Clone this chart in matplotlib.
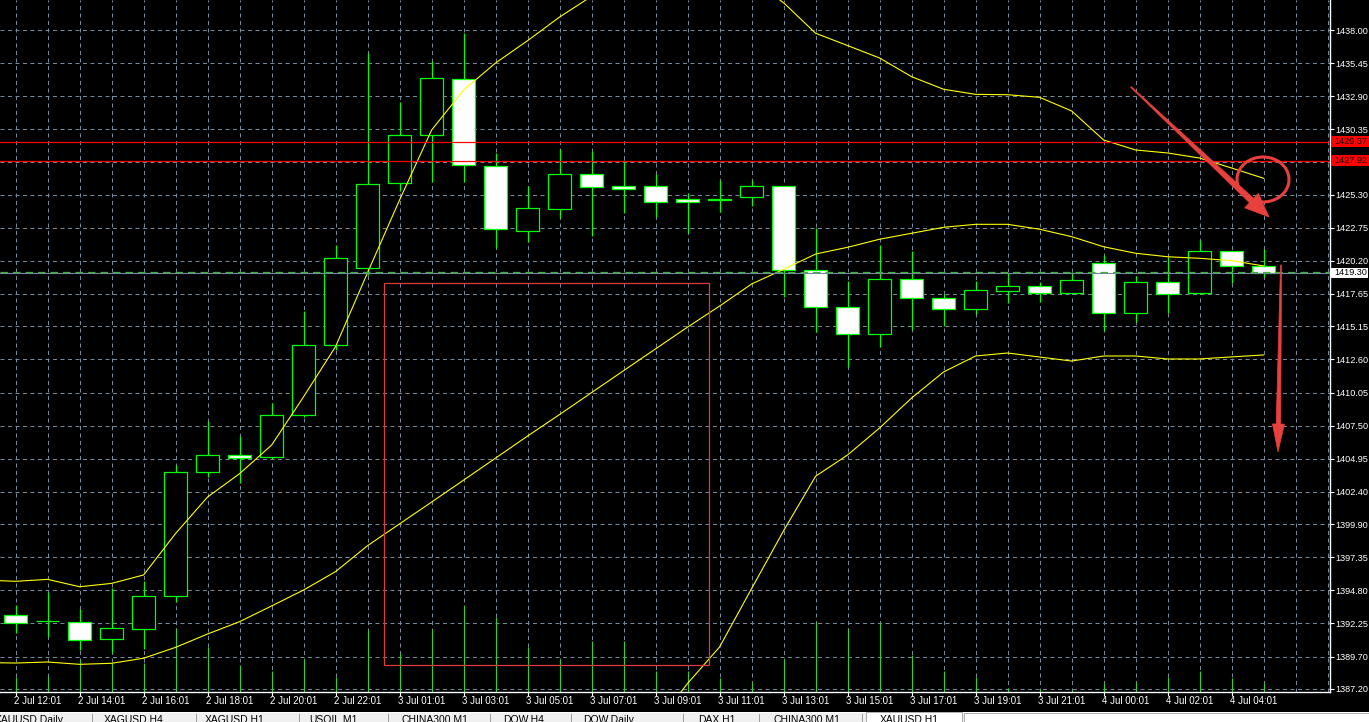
import numpy as np
import matplotlib
matplotlib.use('Agg')
import matplotlib.pyplot as plt
from matplotlib.patches import Rectangle, Polygon, Arc
from matplotlib.transforms import Affine2D, blended_transform_factory

plt.rcParams['font.family'] = ['Liberation Sans', 'DejaVu Sans']

# ---------------- data (XAUUSD H1) ----------------
opens = [1392.88, 1392.42, 1392.39, 1391.03, 1391.85, 1394.37, 1403.90, 1405.21, 1405.06, 1408.30,
         1413.70, 1419.65, 1426.18, 1429.88, 1434.20, 1427.49, 1422.53, 1424.22, 1426.88, 1425.95,
         1425.95, 1424.95, 1424.93, 1425.10, 1425.95, 1419.48, 1416.62, 1414.54, 1418.78, 1417.32,
         1416.47, 1417.90, 1418.24, 1417.70, 1420.01, 1416.16, 1418.55, 1417.70, 1420.94, 1419.78]
highs = [1393.65, 1394.67, 1393.34, 1395.02, 1395.50, 1404.47, 1407.88, 1406.70, 1409.22, 1416.31,
         1421.40, 1436.20, 1432.47, 1435.63, 1437.79, 1428.49, 1425.97, 1428.80, 1428.70, 1427.98,
         1426.90, 1425.46, 1426.44, 1426.44, 1425.95, 1422.71, 1418.65, 1421.43, 1420.96, 1417.65,
         1418.65, 1419.29, 1418.60, 1419.37, 1420.65, 1419.04, 1420.47, 1421.81, 1420.94, 1421.10]
lows = [1391.54, 1391.19, 1390.20, 1389.95, 1390.26, 1393.93, 1403.57, 1403.06, 1404.90, 1408.14,
        1413.30, 1419.10, 1425.60, 1426.31, 1426.31, 1421.22, 1421.68, 1423.53, 1422.12, 1423.92,
        1423.61, 1422.33, 1424.00, 1424.43, 1417.44, 1414.74, 1412.00, 1413.60, 1414.87, 1415.18,
        1416.11, 1416.98, 1417.05, 1417.70, 1414.82, 1415.51, 1416.16, 1417.65, 1418.52, 1418.94]
closes = [1392.31, 1392.42, 1390.95, 1391.88, 1394.37, 1403.90, 1405.21, 1405.03, 1408.30, 1413.70,
          1420.42, 1426.13, 1429.88, 1434.28, 1427.57, 1422.68, 1424.26, 1426.88, 1425.92, 1425.77,
          1424.76, 1424.76, 1424.98, 1425.95, 1419.48, 1416.62, 1414.54, 1418.78, 1417.32, 1416.47,
          1417.93, 1418.24, 1417.70, 1418.70, 1416.16, 1418.55, 1417.63, 1420.94, 1419.78, 1419.30]
volumes = [383, 400, 818, 725, 733, 1593, 1118, 675, 525, 825,
           368, 1550, 968, 1568, 2168, 1868, 1118, 825, 1275, 1275,
           525, 525, 358, 250, 825, 1743, 1593, 1718, 925, 525,
           375, 93, 68, 50, 218, 250, 368, 525, 358, 218]
# Bollinger bands start one bar earlier (bar just off the left edge)
bb_upper = [1395.60,
            1395.50, 1395.65, 1395.08, 1395.34, 1395.99, 1399.19, 1402.00, 1403.80, 1406.00, 1409.73,
            1413.60, 1419.30, 1424.90, 1430.29, 1433.37, 1435.46, 1437.18, 1439.00, 1440.60, 1441.60,
            1442.40, 1442.57, 1443.00, 1441.90, 1440.10, 1437.75, 1436.80, 1435.84, 1434.40, 1433.43,
            1433.04, 1433.01, 1432.81, 1431.76, 1429.52, 1428.75, 1428.52, 1428.13, 1427.36, 1426.57]
bb_middle = [1389.24,
             1389.20, 1389.28, 1389.10, 1389.18, 1389.57, 1390.41, 1391.44, 1392.39, 1393.60, 1394.83,
             1396.25, 1398.25, 1399.93, 1401.61, 1403.30, 1405.00, 1406.70, 1408.36, 1410.05, 1411.74,
             1413.42, 1415.10, 1416.72, 1418.42, 1419.55, 1420.73, 1421.25, 1421.87, 1422.33, 1422.79,
             1423.02, 1423.02, 1422.64, 1422.07, 1421.29, 1420.79, 1420.52, 1420.40, 1420.22, 1419.81]
bb_lower = [1382.88,
            1382.90, 1382.89, 1383.05, 1383.06, 1383.14, 1381.62, 1380.88, 1380.98, 1381.20, 1379.93,
            1378.90, 1377.20, 1374.96, 1372.93, 1373.23, 1374.54, 1376.22, 1377.72, 1379.50, 1381.88,
            1384.44, 1387.63, 1390.44, 1394.94, 1399.40, 1403.60, 1405.24, 1407.32, 1409.63, 1411.64,
            1412.87, 1413.10, 1412.79, 1412.48, 1412.87, 1412.87, 1412.64, 1412.64, 1412.80, 1412.95]
xtick_idx = list(range(0, 40, 2))
xtick_labels = ['2 Jul 12:01', '2 Jul 14:01', '2 Jul 16:01', '2 Jul 18:01', '2 Jul 20:01',
                '2 Jul 22:01', '3 Jul 01:01', '3 Jul 03:01', '3 Jul 05:01', '3 Jul 07:01',
                '3 Jul 09:01', '3 Jul 11:01', '3 Jul 13:01', '3 Jul 15:01', '3 Jul 17:01',
                '3 Jul 19:01', '3 Jul 21:01', '4 Jul 00:01', '4 Jul 02:01', '4 Jul 04:01']
ytick_vals = [1438.00, 1435.45, 1432.90, 1430.35, 1427.80, 1425.30, 1422.75, 1420.20, 1417.65,
              1415.15, 1412.60, 1410.05, 1407.50, 1404.95, 1402.40, 1399.90, 1397.35, 1394.80,
              1392.25, 1389.70, 1387.20]
ytick_labels = ['1438.00', '1435.45', '1432.90', '1430.35', '', '1425.30', '1422.75', '1420.20',
                '1417.65', '1415.15', '1412.60', '1410.05', '1407.50', '1404.95', '1402.40',
                '1399.90', '1397.35', '1394.80', '1392.25', '1389.70', '1387.20']
red_levels = [1429.37, 1427.92]
red_labels = ['1429.37', '1427.92']
bid_price = 1419.30
bid_label = '1419.30'
tab_labels = ['XAUUSD,Daily', 'XAGUSD,H4', 'XAGUSD,H1', 'USOIL,M1', 'CHINA300,M1',
              'DOW,H4', 'DOW,Daily', 'DAX,H1', 'CHINA300,M1', 'XAUUSD,H1']

# ---------------- layout ----------------
W, H = 1369, 722
PLOT_RIGHT, PLOT_BOTTOM = 1330, 692
X0, DX = 15.6, 32.0            # pixel of first candle, pixel per candle
Y0, P0, PPU = 30.0, 1438.0, 12.972   # pixel of P0, pixel per price unit
FS = 7.0
FSY = 6.6

fig = plt.figure(figsize=(W / 100, H / 100), dpi=100, facecolor='black')
ax = fig.add_axes([0, 1 - PLOT_BOTTOM / H, PLOT_RIGHT / W, PLOT_BOTTOM / H])
ax.set_facecolor('black')
ax.set_xlim((0 - X0) / DX, (PLOT_RIGHT - X0) / DX)
ax.set_ylim(P0 - (PLOT_BOTTOM - Y0) / PPU, P0 + Y0 / PPU)

# pixel transform (top-left origin) for annotations
PX = Affine2D().scale(1 / 100, -1 / 100).translate(0, H / 100) + fig.dpi_scale_trans

GRID = '#778899'
grid_kw = dict(color=GRID, lw=0.72, linestyle=(0, (4, 3.5)), zorder=1)
for v in ytick_vals:
    ax.axhline(v, **grid_kw)
for i in range(0, 42):
    ax.axvline(i, **grid_kw)

x = np.arange(len(closes))
xb = np.arange(-1, len(closes))

# volumes
vtrans = blended_transform_factory(ax.transData, ax.transAxes)
VOL_TOP = 17300
ax.vlines(x, 0, np.array(volumes) / VOL_TOP, transform=vtrans, color='#32cd32', lw=0.8, zorder=2)

# candles
GREEN = '#00ff00'
for i, (o, h, l, c) in enumerate(zip(opens, highs, lows, closes)):
    ax.vlines(i, l, h, color=GREEN, lw=0.85, zorder=3)
    face = 'white' if c < o else 'black'
    ax.add_patch(Rectangle((i - 0.36, min(o, c)), 0.72, abs(c - o), fc=face, ec=GREEN,
                           lw=0.9, zorder=4))

# bollinger bands
for band in (bb_upper, bb_middle, bb_lower):
    ax.plot(xb, band, color='#ffff00', lw=0.8, zorder=5)

# horizontal levels
for lv in red_levels:
    ax.axhline(lv, color='#ff0000', lw=0.9, zorder=6)
ax.axhline(bid_price, color=GRID, lw=0.8, zorder=6)
ax.axhline(bid_price + 0.9 / PPU, color='#3cb043', lw=0.9, linestyle=(0, (6, 4)), zorder=6)

# axes styling
for s in ('top', 'left'):
    ax.spines[s].set_visible(False)
for s in ('right', 'bottom'):
    ax.spines[s].set_color('white')
    ax.spines[s].set_linewidth(1.0)
ax.yaxis.tick_right()
ax.set_yticks(ytick_vals)
ax.set_yticklabels(ytick_labels)
ax.tick_params(axis='y', colors='white', labelsize=FSY, length=3, width=0.8, pad=1.2)
ax.set_xticks(xtick_idx)
ax.set_xticklabels([])
ax.tick_params(axis='x', colors='white', length=3, width=0.8)
for i, lab in zip(xtick_idx, xtick_labels):
    ax.text(i - 1.5 / DX, -8.7 / PLOT_BOTTOM, lab, transform=vtrans, color='white',
            fontsize=FS, ha='left', va='center', clip_on=False)

# right-side price labels
for lv, lab in zip(red_levels, red_labels):
    yp = Y0 + (P0 - lv) * PPU
    fig.add_artist(Rectangle((1331, yp - 5.5), 38, 11, transform=PX, fc='#ff0000', ec='none', zorder=5))
    fig.text(1334.5, yp, lab, transform=PX, color='#200000', fontsize=FSY, ha='left', va='center', zorder=6)
yb = Y0 + (P0 - bid_price) * PPU
fig.add_artist(Rectangle((1331, yb - 5), 37, 10, transform=PX, fc='white', ec='none', zorder=5))
fig.text(1334.5, yb, bid_label, transform=PX, color='black', fontsize=FSY, ha='left', va='center', zorder=6)

# ---------------- drawn annotations (pixel coordinates) ----------------
RED = '#e8403c'
fig.add_artist(Rectangle((384.2, 283.3), 325.1, 382.0, transform=PX, fill=False, ec='#dc3c3c',
                         lw=0.9, zorder=7))


def taper_arrow(p0, p1, w0, w1, head_len, head_w):
    p0, p1 = np.array(p0, float), np.array(p1, float)
    d = (p1 - p0) / np.linalg.norm(p1 - p0)
    n = np.array([-d[1], d[0]])
    base = p1 - d * head_len
    pts = [p0 + n * w0 / 2, base + n * w1 / 2, base + n * head_w / 2, p1,
           base - n * head_w / 2, base - n * w1 / 2, p0 - n * w0 / 2]
    return Polygon(pts, closed=True, transform=PX, fc=RED, ec=RED, lw=0.5, zorder=8)


fig.add_artist(taper_arrow((1131, 87), (1269, 217), 1.0, 6.0, 24, 20))
fig.add_artist(taper_arrow((1281, 265), (1278, 452), 1.0, 4.5, 28, 12))
fig.add_artist(Arc((1263, 179.5), 52, 45, theta1=-230, theta2=95, transform=PX, color=RED,
                   lw=2.2, zorder=8))

# ---------------- bottom tab bar ----------------
fig.add_artist(Rectangle((0, 712), W, 10, transform=PX, fc='#f0f0f0', ec='none', zorder=5))
fig.add_artist(Rectangle((0, 711.5), W, 1.5, transform=PX, fc='white', ec='none', zorder=5))
tab_x = [-5, 104, 205, 309, 401, 503, 583, 698, 773, 880]
seps = [92, 196, 299, 388, 490, 571, 683, 759, 862]
for s in seps:
    fig.add_artist(Rectangle((s, 714), 1, 8, transform=PX, fc='#a0a0a0', ec='none', zorder=6))
fig.add_artist(Rectangle((866, 712), 96, 11, transform=PX, fc='white', ec='#a0a0a0', lw=0.6, zorder=6))
fig.add_artist(Rectangle((964, 713), 410, 11, transform=PX, fc='white', ec='#a0a0a0', lw=0.6, zorder=6))
for tx, lab in zip(tab_x, tab_labels):
    fig.text(tx, 715.0, lab, transform=PX, color='black', fontsize=7.5, ha='left', va='top', zorder=7)

fig.savefig('out.png', dpi=100, facecolor='black')
